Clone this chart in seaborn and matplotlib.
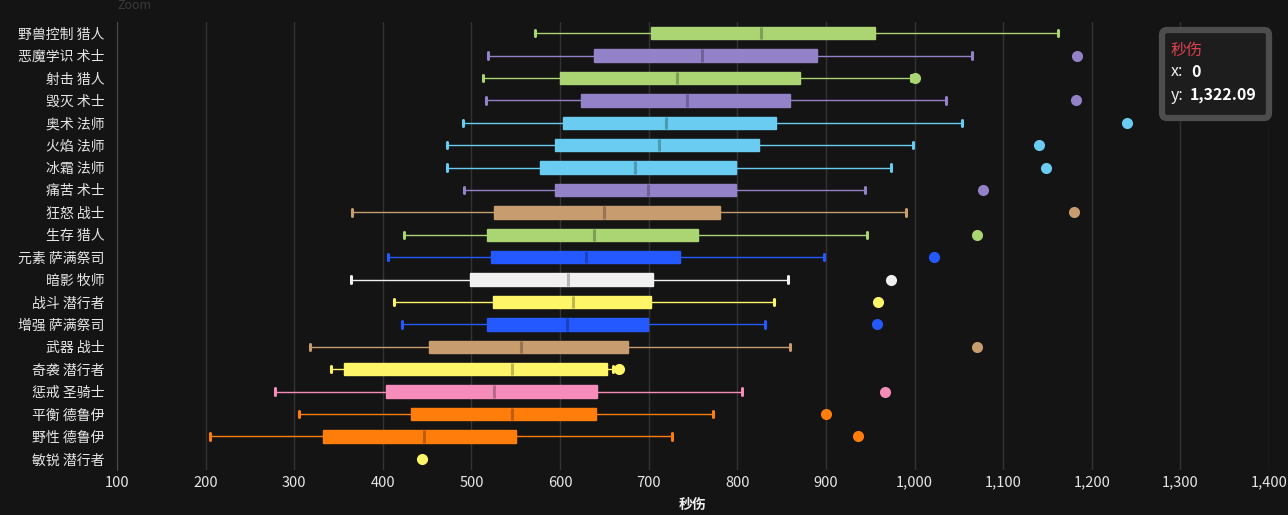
import numpy as np
import pandas as pd
import matplotlib.pyplot as plt
import matplotlib.colors as mcolors
from matplotlib.patches import FancyBboxPatch
from matplotlib.transforms import IdentityTransform
import seaborn as sns

# specs (spec name + class), top to bottom
categories = ["野兽控制 猎人", "恶魔学识 术士", "射击 猎人", "毁灭 术士", "奥术 法师",
              "火焰 法师", "冰霜 法师", "痛苦 术士", "狂怒 战士", "生存 猎人",
              "元素 萨满祭司", "暗影 牧师", "战斗 潜行者", "增强 萨满祭司", "武器 战士",
              "奇袭 潜行者", "惩戒 圣骑士", "平衡 德鲁伊", "野性 德鲁伊", "敏锐 潜行者"]

# box stats (dps); the last spec has no box
low = [572, 519, 513, 516, 491, 472, 472, 492, 365, 424, 406, 364, 413, 422, 318, 341, 278, 305, 205, None]
q1 = [703, 638, 600, 624, 603, 594, 577, 594, 525, 517, 522, 498, 524, 518, 452, 356, 404, 432, 333, None]
median = [827, 760, 732, 743, 719, 712, 685, 699, 650, 638, 629, 609, 615, 608, 556, 546, 525, 546, 446, None]
q3 = [955, 890, 871, 859, 844, 825, 798, 798, 780, 756, 735, 705, 703, 699, 677, 653, 642, 640, 550, None]
high = [1162, 1065, 996, 1035, 1053, 998, 974, 944, 990, 946, 898, 857, 841, 831, 859, 660, 805, 773, 726, None]
outlier = [1322.09, 1183, 1000, 1182, 1240, 1140, 1148, 1077, 1180, 1071, 1022, 973, 959, 958, 1071, 667, 967, 900, 936, 444]

class_colors = {"猎人": "#ABD473", "术士": "#9482C9", "法师": "#69CCF0", "战士": "#C79C6E",
                "萨满祭司": "#2459FF", "牧师": "#F0F0F0", "潜行者": "#FFF569",
                "圣骑士": "#F58CBA", "德鲁伊": "#FF7D0A"}
colors = [class_colors[c.split(" ")[1]] for c in categories]

bg = "#141414"
sns.set_style("dark")
plt.rcParams['font.family'] = ['Noto Sans CJK SC', 'DejaVu Sans']

fig = plt.figure(figsize=(12.88, 5.15), dpi=100, facecolor=bg)
ax = fig.add_axes([117 / 1288, 1 - 470 / 515, 1152 / 1288, 448 / 515])
ax.set_facecolor(bg)

# one box per spec so each gets its own colours
for i, cat in enumerate(categories):
    if low[i] is None:
        continue
    vals = [low[i], q1[i], median[i], q3[i], high[i]]
    d = pd.DataFrame({"dps": vals, "spec": [cat] * len(vals)})
    c = colors[i]
    dark = tuple(np.array(mcolors.to_rgb(c)) * 0.75)
    sns.boxplot(data=d, x="dps", y="spec", order=categories, color=c, saturation=1,
                width=0.56, whis=(0, 100), showfliers=False, linecolor=c, linewidth=1,
                medianprops={"color": dark, "linewidth": 2.2},
                capprops={"linewidth": 2.2}, ax=ax)

out_df = pd.DataFrame({"dps": outlier, "spec": categories})
sns.stripplot(data=out_df, x="dps", y="spec", order=categories, hue="spec",
              palette=dict(zip(categories, colors)), jitter=False, size=8,
              linewidth=0, legend=False, zorder=5, ax=ax)

ax.set_xlim(100, 1400)
ax.set_ylim(19.5, -0.5)
xt = np.arange(100, 1401, 100)
ax.set_xticks(xt)
ax.set_xticklabels([f"{v:,}" for v in xt], color="#e6e6e6", fontsize=10.5)
ax.tick_params(axis="x", length=0, pad=4)
ax.tick_params(axis="y", which="major", length=0, pad=9, labelcolor="#e6e6e6", labelsize=10)
ax.set_yticks(np.arange(-0.5, 20, 1), minor=True)
ax.tick_params(axis="y", which="minor", length=5, color="#4a4a4a", width=1)
ax.xaxis.grid(True, color="#333333", linewidth=1)
ax.yaxis.grid(False)
ax.set_axisbelow(True)
for s in ["top", "right", "bottom"]:
    ax.spines[s].set_visible(False)
ax.spines["left"].set_color("#4a4a4a")
ax.set_ylabel("")
ax.set_xlabel("秒伤", color="#f0f0f0", fontsize=10, fontweight="bold", labelpad=6)

# zoom button text at the top
fig.text(117 / 1288, 1 - 12 / 515, "Zoom", color="#3a3a3a", fontsize=9, va="bottom")

# tooltip
tip = FancyBboxPatch((1162, 515 - 118), 107, 88, boxstyle="round,pad=0,rounding_size=5",
                     facecolor="#1d1d1d", edgecolor="#4d4d4d", linewidth=4.5,
                     transform=IdentityTransform(), zorder=10)
fig.add_artist(tip)
fs = 11.5
fig.text(1171 / 1288, 1 - 50 / 515, "秒伤", color="#e0404f", fontsize=fs, va="center", zorder=11)
fig.text(1171 / 1288, 1 - 72 / 515, "x:", color="#f0f0f0", fontsize=fs, va="center", zorder=11)
fig.text(1191 / 1288, 1 - 72 / 515, "0", color="#ffffff", fontsize=fs, fontweight="bold",
         va="center", zorder=11)
fig.text(1171 / 1288, 1 - 95 / 515, "y:", color="#f0f0f0", fontsize=fs, va="center", zorder=11)
fig.text(1190 / 1288, 1 - 95 / 515, "1,322.09", color="#ffffff", fontsize=fs, fontweight="bold",
         va="center", zorder=11)

fig.savefig("out.png", dpi=100, facecolor=bg)
